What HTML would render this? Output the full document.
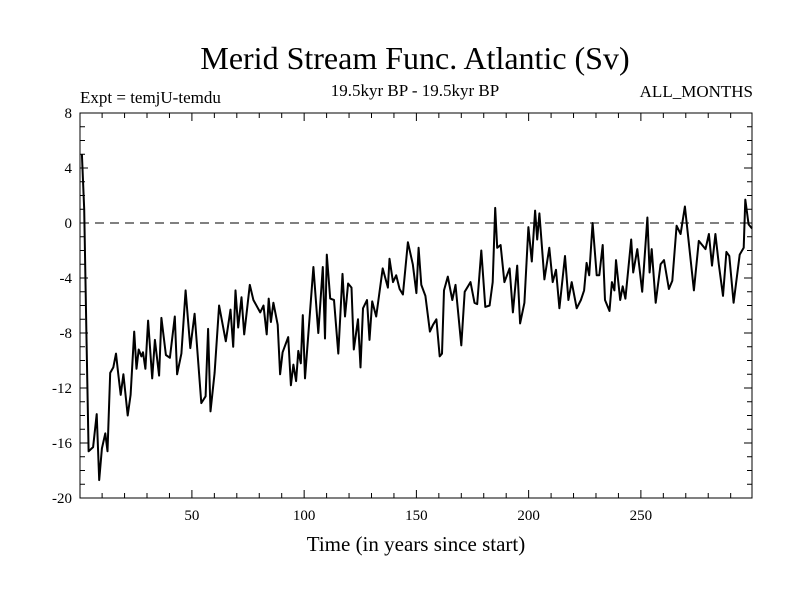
<!DOCTYPE html>
<html><head><meta charset="utf-8"><style>
body{margin:0;background:#fff}
svg text{font-family:"Liberation Serif",serif;fill:#000}
</style></head><body>
<svg width="800" height="600" viewBox="0 0 800 600" id="chart">
<rect width="800" height="600" fill="#fff"/>
<text x="415" y="69" font-size="32" text-anchor="middle">Merid Stream Func. Atlantic (Sv)</text>
<text x="80" y="103" font-size="17">Expt = temjU-temdu</text>
<text x="415" y="96" font-size="17" text-anchor="middle">19.5kyr BP - 19.5kyr BP</text>
<text x="753" y="97" font-size="17" text-anchor="end">ALL_MONTHS</text>
<text x="416" y="551" font-size="21" text-anchor="middle">Time (in years since start)</text>
<g id="axes"></g>
<g id="series"></g>
<rect x="80" y="113" width="672" height="385" fill="none" stroke="#000" stroke-width="1"/>
</svg>
<script>
const years=[1,2,3,4,6,7.6,8.7,9.9,11.4,12.4,13.6,15,16.2,17.2,18.3,19.5,21.4,22.7,24.3,25.3,26.3,27.5,28.2,29.3,30.5,32.3,33.5,35.4,36.4,38.4,40.2,42.4,43.4,45.3,47.2,49.3,51.2,54.2,56.1,57.2,58.3,60.1,62.1,65.1,67.2,68.4,69.4,70.6,72.1,73.3,75.8,77.4,80.4,81.9,83.3,84.2,85.2,86.3,88.2,89.3,90.4,92.9,94.1,95.2,96.4,97.4,98.5,99.4,100.4,104.1,106.3,108.3,109.3,110.1,111.6,113.3,115.2,117.1,118.2,119.6,121.1,122.1,124,125.1,126.2,128,129.1,130.3,132.1,135,137.3,138,139.6,141,142.5,144,146.2,148.4,150,151,152.2,154,156,157.4,158.9,160.4,161.4,162.3,164,166,167.4,170,171.5,174.1,175.9,177.1,178.9,180.7,182.6,184,185.1,186,187.5,189.2,191.5,193,194.9,196.2,198.1,199.9,201.4,202.9,203.8,204.8,207,209.2,210.7,212.2,213.7,216.2,217.7,219.2,221.4,223.3,224.7,225.8,227,228.5,230.3,231.5,233,234,236,237.1,238.2,238.9,240.8,241.9,243.1,245.7,246.6,248.4,250.6,252.9,253.9,254.8,256.6,258.8,260.3,262.5,264,265.9,267.7,269.6,271.4,273.6,275.8,278.8,280.3,281.7,283.2,284.7,286.6,288.1,289.4,291.3,294,295.8,296.5,298,299.5];
const values=[5,1,-8,-16.6,-16.3,-13.9,-18.7,-16.4,-15.3,-16.6,-10.9,-10.5,-9.5,-11,-12.5,-11,-14,-12.5,-7.9,-10.6,-9.2,-9.7,-9.4,-10.6,-7.1,-11.3,-8.5,-11.1,-6.9,-9.6,-9.8,-6.8,-11,-9.5,-4.9,-9.1,-6.6,-13.1,-12.6,-7.7,-13.7,-10.9,-6,-8.6,-6.3,-9,-4.9,-7.6,-5.4,-8.1,-4.5,-5.6,-6.5,-6,-8.1,-5.5,-7.2,-5.8,-7.4,-11,-9.4,-8.3,-11.8,-10.3,-11.5,-9.3,-10.2,-6.7,-11.3,-3.2,-8,-3.2,-8.4,-2.3,-5.5,-5.6,-9.5,-3.7,-6.8,-4.4,-4.7,-9.2,-7,-10.5,-6.2,-5.6,-8.5,-5.7,-6.8,-3.3,-4.7,-2.6,-4.3,-3.8,-4.8,-5.2,-1.4,-3,-5.1,-1.8,-4.5,-5.3,-7.9,-7.4,-7,-9.7,-9.5,-4.9,-3.9,-5.6,-4.5,-8.9,-5,-4.3,-5.8,-5.9,-2,-6.1,-6,-4.3,1.1,-1.8,-1.6,-4.3,-3.3,-6.5,-3.1,-7.3,-5.8,-0.3,-2.8,0.9,-1.2,0.7,-4.1,-1.8,-4.3,-3.4,-6.2,-2.4,-5.6,-4.3,-6.2,-5.6,-4.9,-2.9,-3.8,0,-3.8,-3.8,-1.6,-5.6,-6.4,-4.3,-4.9,-2.7,-5.6,-4.6,-5.5,-1.2,-3.6,-1.9,-5,0.4,-3.6,-1.9,-5.8,-3,-2.7,-4.8,-4.2,-0.2,-0.8,1.2,-1.5,-4.9,-1.3,-1.9,-0.8,-3.1,-0.8,-3,-5.3,-2.1,-2.4,-5.8,-2.3,-1.8,1.7,-0.1,-0.4];
const yTicks=[8,4,0,-4,-8,-12,-16,-20];
const yTickLabels=["8","4","0","-4","-8","-12","-16","-20"];
const xTicks=[50,100,150,200,250];
const xTickLabels=["50","100","150","200","250"];
const L=80,R=752,T=113,B=498,X0=0.15,X1=299.5,Y0=-20,Y1=8;
const sx=v=>L+(v-X0)/(X1-X0)*(R-L);
const sy=v=>B-(v-Y0)/(Y1-Y0)*(B-T);
const NS="http://www.w3.org/2000/svg";
const ax=document.getElementById('axes');
function mk(t,a,p){const e=document.createElementNS(NS,t);for(const k in a)e.setAttribute(k,a[k]);p.appendChild(e);return e;}
for(let v=Y0;v<=Y1;v++){const y=sy(v);const len=(v%4===0)?8:5;
 const t1=mk('line',{x1:L,x2:L+len,y1:y,y2:y,stroke:'#000'},ax);
 
 
 const t2=mk('line',{x1:R-len,x2:R,y1:y,y2:y,stroke:'#000'},ax);
 
 }
yTicks.forEach((v,i)=>{const t=mk('text',{x:L-8,y:sy(v)+5,'font-size':15,'text-anchor':'end'},ax);t.textContent=yTickLabels[i];
 
 });
for(let v=10;v<=290;v+=10){const x=sx(v);const len=(v%50===0)?8:5;
 const a=mk('line',{x1:x,x2:x,y1:B,y2:B-len,stroke:'#000'},ax);
 
 
 const b=mk('line',{x1:x,x2:x,y1:T,y2:T+len,stroke:'#000'},ax);
 
 }
xTicks.forEach((v,i)=>{const t=mk('text',{x:sx(v),y:B+22,'font-size':15,'text-anchor':'middle'},ax);t.textContent=xTickLabels[i];
 
 });
const zl=mk('line',{x1:L,x2:R,y1:sy(0),y2:sy(0),stroke:'#000','stroke-dasharray':'9,6','stroke-width':1},ax);


const pts=years.map((y,i)=>sx(y).toFixed(1)+','+sy(values[i]).toFixed(1)).join(' ');
const pl=mk('polyline',{points:pts,fill:'none',stroke:'#000','stroke-width':2,'stroke-linejoin':'round'},document.getElementById('series'));


</script>
</body></html>
